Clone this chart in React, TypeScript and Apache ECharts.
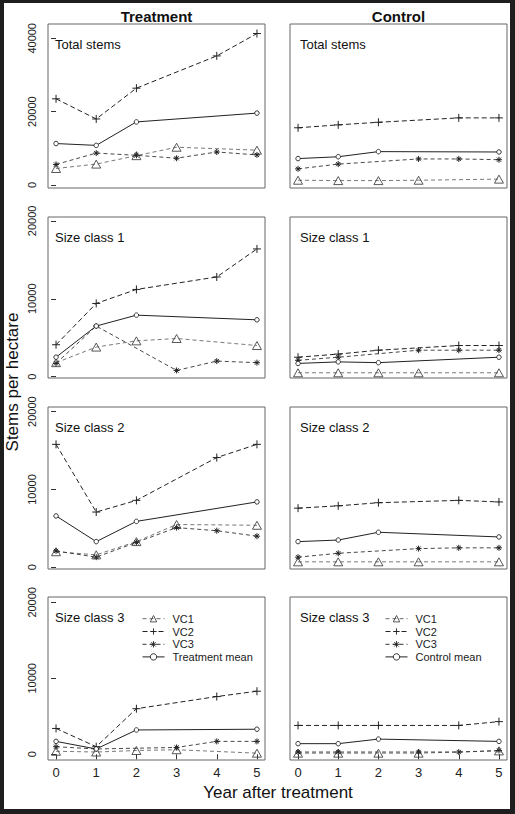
import React, { useEffect, useRef } from "react";
import * as echarts from "echarts";

// ---------- data ----------
const years = [0, 1, 2, 3, 4, 5];
const columnTitles = ["Treatment", "Control"];
const panelTitles = ["Total stems", "Size class 1", "Size class 2", "Size class 3"];
const vcNames = ["VC1", "VC2", "VC3"];
const meanNames = ["Treatment mean", "Control mean"];
const yTicksTotal = [0, 20000, 40000];
const yTicksSize = [0, 10000, 20000];
const xTitle = "Year after treatment";
const yTitle = "Stems per hectare";

// Treatment: total stems
const tTotalVC1 = [4500, 5700, 8000, 10300, null, 9500];
const tTotalVC2 = [23500, 18000, 26400, null, 35200, 41300];
const tTotalVC3 = [5600, 8700, 8100, 7300, 9000, 8200];
const tTotalMean = [11300, 10800, 17200, null, null, 19600];
// Control: total stems
const cTotalVC1 = [1300, 1200, 1200, 1300, null, 1600];
const cTotalVC2 = [15600, 16400, 17100, null, 18300, 18300];
const cTotalVC3 = [4400, 5700, null, 7100, 7100, 6900];
const cTotalMean = [7200, 7700, 9100, null, null, 9000];
// Treatment: size class 1
const tS1VC1 = [1800, 3800, 4600, 4900, null, 4000];
const tS1VC2 = [4100, 9400, 11200, null, 12800, 16400];
const tS1VC3 = [1700, 6500, null, 800, 2000, 1800];
const tS1Mean = [2500, 6500, 7900, null, null, 7300];
// Control: size class 1
const cS1VC1 = [500, 500, 500, 500, null, 500];
const cS1VC2 = [2500, 2900, 3400, null, 4000, 4000];
const cS1VC3 = [2100, 2500, null, 3400, 3400, 3400];
const cS1Mean = [1700, 1900, 1800, null, null, 2500];
// Treatment: size class 2
const tS2VC1 = [2000, 1600, 3300, 5500, null, 5400];
const tS2VC2 = [15800, 7100, 8600, null, 14100, 15800];
const tS2VC3 = [2100, 1300, 3200, 5100, 4700, 4000];
const tS2Mean = [6600, 3300, 5900, null, null, 8400];
// Control: size class 2
const cS2VC1 = [700, 700, 700, 700, null, 700];
const cS2VC2 = [7600, 7900, 8300, null, 8600, 8400];
const cS2VC3 = [1300, 1800, null, 2400, 2500, 2500];
const cS2Mean = [3300, 3500, 4500, null, null, 3900];
// Treatment: size class 3
const tS3VC1 = [400, 300, 500, 600, null, 150];
const tS3VC2 = [3400, 1000, 6000, null, 7600, 8300];
const tS3VC3 = [1000, 700, null, 900, 1700, 1700];
const tS3Mean = [1700, 700, 3200, null, null, 3300];
// Control: size class 3
const cS3VC1 = [150, 150, 150, 150, null, 450];
const cS3VC2 = [3800, 3800, 3800, null, 3800, 4300];
const cS3VC3 = [300, 300, null, 300, 300, 500];
const cS3Mean = [1400, 1400, 2000, null, null, 1700];

// panels[row][col] = [VC1, VC2, VC3, mean]
const panels = [
  [[tTotalVC1, tTotalVC2, tTotalVC3, tTotalMean], [cTotalVC1, cTotalVC2, cTotalVC3, cTotalMean]],
  [[tS1VC1, tS1VC2, tS1VC3, tS1Mean], [cS1VC1, cS1VC2, cS1VC3, cS1Mean]],
  [[tS2VC1, tS2VC2, tS2VC3, tS2Mean], [cS2VC1, cS2VC2, cS2VC3, cS2Mean]],
  [[tS3VC1, tS3VC2, tS3VC3, tS3Mean], [cS3VC1, cS3VC2, cS3VC3, cS3Mean]],
];

// ---------- layout ----------
const FONT = '"Liberation Sans", Arial, Helvetica, sans-serif';
const cols = [
  { left: 48, width: 217 },
  { left: 290, width: 217 },
];
const rows = [
  { top: 24, height: 164, min: -820, max: 43900 },
  { top: 217, height: 161, min: -170, max: 20500 },
  { top: 407, height: 162, min: -220, max: 20600 },
  { top: 597, height: 163, min: -750, max: 20700 },
];

const PLUS = "path://M5 0L5 10M0 5L10 5";
const STAR = "path://M5 0L5 10M0 5L10 5M1.5 1.5L8.5 8.5M8.5 1.5L1.5 8.5";

const styles = [
  {
    symbol: "triangle",
    symbolSize: [9, 8],
    itemStyle: { color: "none", borderColor: "#444", borderWidth: 0.9 },
    lineStyle: { color: "#6a6a6a", width: 0.9, type: [4, 3] },
  },
  {
    symbol: PLUS,
    symbolSize: 8,
    itemStyle: { color: "none", borderColor: "#222", borderWidth: 1 },
    lineStyle: { color: "#222", width: 1, type: [5, 3] },
  },
  {
    symbol: STAR,
    symbolSize: 6,
    itemStyle: { color: "none", borderColor: "#222", borderWidth: 1 },
    lineStyle: { color: "#333", width: 0.9, type: [4, 3] },
  },
  {
    symbol: "circle",
    symbolSize: 4.5,
    itemStyle: { color: "#fff", borderColor: "#222", borderWidth: 0.9 },
    lineStyle: { color: "#222", width: 1, type: "solid" },
  },
];

function buildOption() {
  const grid: any[] = [];
  const xAxis: any[] = [];
  const yAxis: any[] = [];
  const series: any[] = [];
  const graphic: any[] = [];

  rows.forEach((r, ri) => {
    cols.forEach((c, ci) => {
      const g = ri * 2 + ci;
      grid.push({
        left: c.left,
        top: r.top,
        width: c.width,
        height: r.height,
        show: true,
        borderColor: "#666",
        borderWidth: 1,
        backgroundColor: "transparent",
      });
      const bottom = ri === rows.length - 1;
      xAxis.push({
        type: "value",
        gridIndex: g,
        min: -0.2,
        max: 5.2,
        offset: 2,
        splitLine: { show: false },
        axisLine: { show: false },
        axisTick: {
          show: bottom,
          customValues: years,
          length: 5,
          lineStyle: { color: "#333", width: 1 },
        },
        axisLabel: {
          show: bottom,
          customValues: years,
          fontSize: 13,
          fontFamily: FONT,
          color: "#222",
          margin: 4,
          formatter: (v: number) => String(v),
        },
      });
      const ticks = ri === 0 ? yTicksTotal : yTicksSize;
      yAxis.push({
        type: "value",
        gridIndex: g,
        min: r.min,
        max: r.max,
        splitLine: { show: false },
        axisLine: { show: false },
        axisTick: {
          show: ci === 0,
          customValues: ticks,
          length: 5,
          lineStyle: { color: "#333", width: 1 },
        },
        axisLabel: {
          show: ci === 0,
          customValues: ticks,
          rotate: 90,
          fontSize: 11,
          fontFamily: FONT,
          color: "#222",
          margin: 11,
          formatter: (v: number) => String(v),
        },
      });
      const names = [...vcNames, meanNames[ci]];
      panels[ri][ci].forEach((vals, si) => {
        const st = styles[si];
        const data = vals
          .map((v, i) => (v == null ? null : [years[i], v]))
          .filter((d) => d != null);
        series.push({
          type: "line",
          name: names[si],
          xAxisIndex: g,
          yAxisIndex: g,
          data,
          symbol: st.symbol,
          symbolSize: st.symbolSize,
          showAllSymbol: true,
          itemStyle: st.itemStyle,
          lineStyle: st.lineStyle,
          emphasis: { disabled: true },
          z: 3 + si,
        });
      });
      graphic.push({
        type: "text",
        x: c.left + (ci === 0 ? 7 : 10),
        y: r.top + 20,
        style: {
          text: panelTitles[ri],
          fontSize: 13,
          fontFamily: FONT,
          fill: "#111",
          align: "left",
          verticalAlign: "middle",
        },
      });
    });
  });

  cols.forEach((c, ci) => {
    graphic.push({
      type: "text",
      x: c.left + c.width / 2,
      y: 16,
      style: {
        text: columnTitles[ci],
        fontSize: 15,
        fontWeight: "bold",
        fontFamily: FONT,
        fill: "#111",
        align: "center",
        verticalAlign: "middle",
      },
    });
  });

  graphic.push({
    type: "text",
    x: 12,
    y: 382,
    rotation: Math.PI / 2,
    style: {
      text: yTitle,
      fontSize: 17,
      fontWeight: "normal",
      fontFamily: FONT,
      fill: "#111",
      align: "center",
      verticalAlign: "middle",
    },
  });
  graphic.push({
    type: "text",
    x: 278,
    y: 792,
    style: {
      text: xTitle,
      fontSize: 17,
      fontWeight: "normal",
      fontFamily: FONT,
      fill: "#111",
      align: "center",
      verticalAlign: "middle",
    },
  });

  // dark outer frame of the figure
  const frame = [
    { x: 0, y: 0, width: 4, height: 814 },
    { x: 0, y: 0, width: 515, height: 3 },
    { x: 510, y: 0, width: 5, height: 814 },
    { x: 0, y: 809, width: 515, height: 5 },
  ];
  frame.forEach((f) =>
    graphic.push({ type: "rect", shape: f, style: { fill: "#1e1e1e" }, z: 100, silent: true })
  );

  const legendBase = {
    orient: "vertical",
    top: 613,
    itemWidth: 22,
    itemHeight: 8,
    itemGap: 1.4,
    padding: 0,
    selectedMode: false,
    itemStyle: { borderWidth: 0.9 },
    lineStyle: { width: 1 },
    textStyle: { fontSize: 11, fontFamily: FONT, color: "#222", padding: [0, 0, 0, 3] },
  };
  const legend = [
    { ...legendBase, left: 142, data: [...vcNames, meanNames[0]] },
    { ...legendBase, left: 385, data: [...vcNames, meanNames[1]] },
  ];

  return {
    animation: false,
    backgroundColor: "#fff",
    grid,
    xAxis,
    yAxis,
    series,
    legend,
    graphic,
  };
}

export default function App() {
  const ref = useRef<HTMLDivElement>(null);
  useEffect(() => {
    document.body.style.margin = "0";
    if (!ref.current) return;
    const chart = echarts.init(ref.current, undefined, { renderer: "svg" });
    chart.setOption(buildOption() as any);
    return () => chart.dispose();
  }, []);
  return (
    <div
      ref={ref}
      style={{ position: "absolute", left: 0, top: 0, width: 515, height: 814 }}
    />
  );
}
